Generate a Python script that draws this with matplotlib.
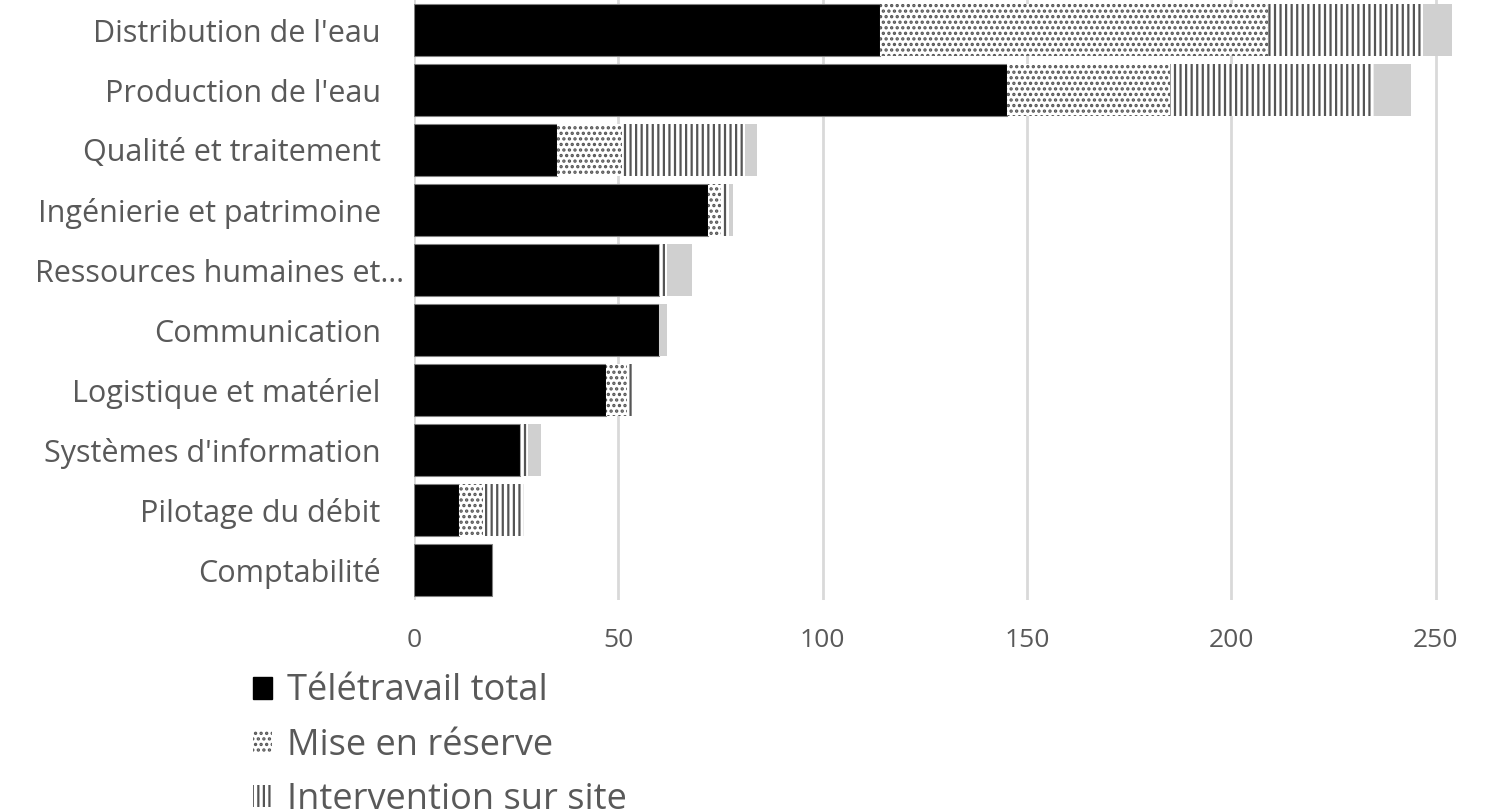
import matplotlib
matplotlib.use("Agg")
import matplotlib.pyplot as plt
import numpy as np
from matplotlib.patches import Patch
from matplotlib.transforms import ScaledTranslation

categories = ["Distribution de l'eau", "Production de l'eau", "Qualité et traitement",
              "Ingénierie et patrimoine", "Ressources humaines et…", "Communication",
              "Logistique et matériel", "Systèmes d'information", "Pilotage du débit",
              "Comptabilité"]
teletravail = [114, 145, 35, 72, 60, 60, 47, 26, 11, 19]
reserve = [95, 40, 16, 3, 0, 0, 5, 0, 6, 0]
intervention = [38, 50, 30, 2, 2, 0, 2, 2, 10, 0]
autre = [7, 9, 3, 1, 6, 2, 0, 3, 0, 0]
series_labels = ["Télétravail total", "Mise en réserve", "Intervention sur site"]
xticks = [0, 50, 100, 150, 200, 250]

TXT = "#595959"
plt.rcParams['font.family'] = ['Open Sans', 'DejaVu Sans']
plt.rcParams['hatch.linewidth'] = 1.6

fig = plt.figure(figsize=(14.91, 8.11), dpi=100)
ax = fig.add_axes([414/1491, 1-600/811, (1640-414)/1491, 600/811])

y = np.arange(len(categories))
h = 0.87
left = np.zeros(len(categories))
ax.barh(y, teletravail, h, left=left, color="black", edgecolor="#808080", linewidth=0.8, zorder=3)
left += teletravail
ax.barh(y, reserve, h, left=left, color="white", edgecolor="#555555", hatch="...", linewidth=0, zorder=3)
left += reserve
ax.barh(y, intervention, h, left=left, color="white", edgecolor="#555555", hatch="|||", linewidth=0, zorder=3)
left += intervention
ax.barh(y, autre, h, left=left, color="#d0d0d0", edgecolor="#d0d0d0", linewidth=0, zorder=3)

ax.set_ylim(len(categories)-0.5, -0.5)
ax.set_xlim(0, 300)
ax.set_xticks(xticks)
ax.set_xticklabels([str(t) for t in xticks])
ax.set_yticks(y)
ax.set_yticklabels(categories)
ax.grid(axis='x', color='#d9d9d9', linewidth=2, zorder=0)
ax.axvline(300, color='#d9d9d9', linewidth=2, zorder=0)
for s in ax.spines.values():
    s.set_visible(False)
ax.tick_params(axis='y', length=0, pad=24, labelsize=22, labelcolor=TXT)
ax.tick_params(axis='x', length=0, pad=20, labelsize=19, labelcolor=TXT)

# truncated label extends further right, as in the reference
for lab in ax.get_yticklabels():
    if lab.get_text().endswith("…"):
        lab.set_transform(lab.get_transform() + ScaledTranslation(0.23, 0, fig.dpi_scale_trans))

handles = [Patch(facecolor="black", edgecolor="black"),
           Patch(facecolor="white", edgecolor="#555555", hatch="...", linewidth=0),
           Patch(facecolor="white", edgecolor="#555555", hatch="|||", linewidth=0)]
fig.legend(handles, series_labels, loc='upper left', bbox_to_anchor=(220/1491, 1-641/811),
           frameon=False, fontsize=26, labelcolor=TXT, handlelength=0.55, handleheight=0.55,
           handletextpad=0.4, labelspacing=0.5)

fig.savefig("out.png", dpi=100)
